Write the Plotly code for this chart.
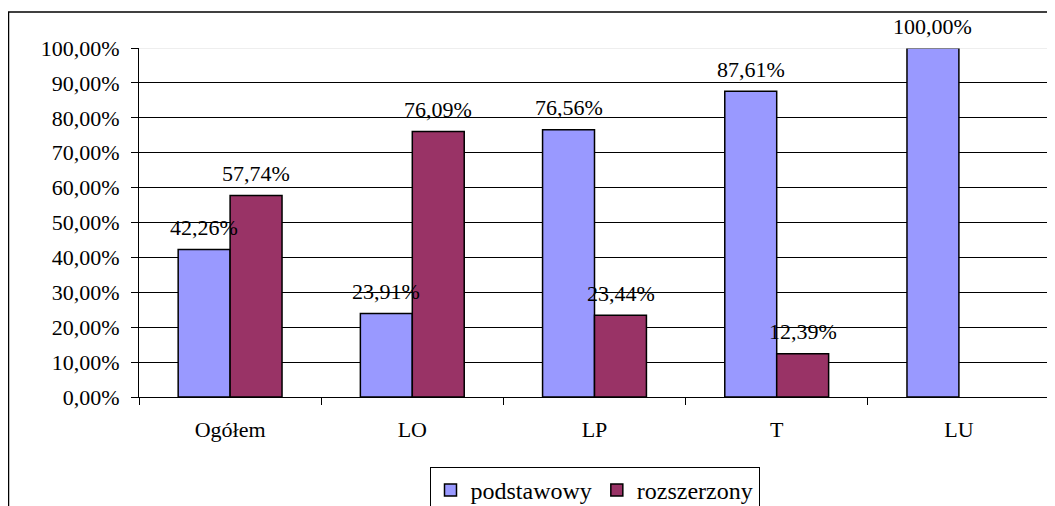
import plotly.graph_objects as go

categories = ["Ogółem", "LO", "LP", "T", "LU"]
podstawowy = [42.26, 23.91, 76.56, 87.61, 100.00]
rozszerzony = [57.74, 76.09, 23.44, 12.39, 0.0]
series_names = ["podstawowy", "rozszerzony"]
y_ticks = [0, 10, 20, 30, 40, 50, 60, 70, 80, 90, 100]

def fmt(v):
    return f"{v:.2f}".replace(".", ",") + "%"

FONT = "Liberation Serif, serif"
W, H = 1055, 506
# page body has an 8px margin, so figure coordinates are screen coordinates minus 8
L, R, T, B = 131, 13, 40, 117
pw = W - L - R
ph = H - T - B

fig = go.Figure()
fig.add_trace(go.Bar(x=categories, y=podstawowy, name=series_names[0],
                     marker=dict(color="#9999FF",
                                 line=dict(color="black", width=[1.5 if v > 0 else 0 for v in podstawowy]))))
fig.add_trace(go.Bar(x=categories, y=rozszerzony, name=series_names[1],
                     marker=dict(color="#993366",
                                 line=dict(color="black", width=[1.5 if v > 0 else 0 for v in rozszerzony]))))

ann = []
for vals, shift in ((podstawowy, -26), (rozszerzony, 26)):
    for c, v in zip(categories, vals):
        if v > 0:
            ann.append(dict(x=c, y=v, text=fmt(v), showarrow=False, xref="x", yref="y",
                            xshift=shift, yshift=22, yanchor="middle",
                            font=dict(family=FONT, size=22, color="black")))

fy = 1 + (T - 4) / ph
fx = (0 - L) / pw
shapes = [
    dict(type="line", xref="paper", yref="y", x0=0, x1=1, y0=100, y1=100,
         line=dict(color="#dddddd", width=1)),
    dict(type="line", xref="paper", yref="paper", x0=fx, x1=1.2, y0=fy, y1=fy,
         line=dict(color="black", width=1.5)),
    dict(type="line", xref="paper", yref="paper", x0=fx + 0.5 / pw, x1=fx + 0.5 / pw, y0=fy, y1=-0.5,
         line=dict(color="black", width=1.5)),
]

fig.update_layout(
    width=W, height=H,
    margin=dict(l=L, r=R, t=T, b=B, autoexpand=False),
    paper_bgcolor="white", plot_bgcolor="white",
    barmode="group", bargap=0.43, bargroupgap=0,
    font=dict(family=FONT, size=21, color="black"),
    showlegend=True,
    legend=dict(orientation="h", x=0.5, xanchor="center", y=(T + ph - 459) / ph,
                yanchor="top", bordercolor="black", borderwidth=1,
                font=dict(family=FONT, size=24), tracegroupgap=0),
    annotations=ann, shapes=shapes,
)
fig.update_xaxes(type="category", showline=True, linecolor="black", linewidth=1,
                 ticks="outside", tickson="boundaries", ticklen=7, tickcolor="black",
                 showgrid=False, ticklabelstandoff=13, automargin=False,
                 tickfont=dict(family=FONT, size=22))
fig.update_yaxes(range=[0, 100], tickvals=y_ticks, ticktext=[fmt(v) for v in y_ticks],
                 showline=True, linecolor="black", linewidth=1, ticks="outside",
                 ticklen=7, tickcolor="black", showgrid=True, gridcolor="black",
                 gridwidth=1, zeroline=False, ticklabelstandoff=7, automargin=False,
                 tickfont=dict(family=FONT, size=22))

fig.write_html("out.html")
